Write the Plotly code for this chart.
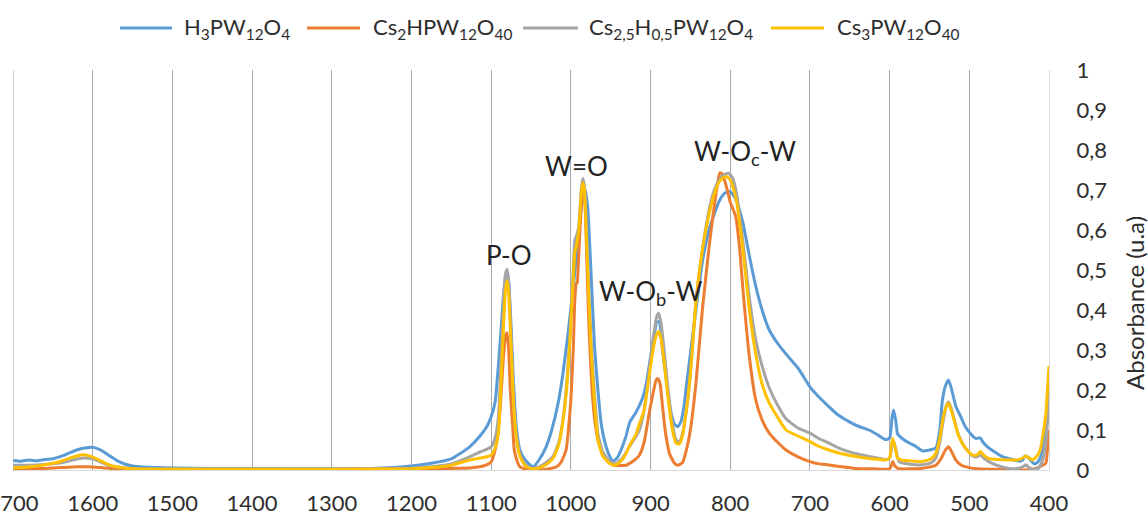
import plotly.graph_objects as go

# ---------------- data ----------------
h3_wn = [1700, 1690, 1680, 1670, 1660, 1650, 1640, 1630, 1620, 1610, 1600, 1590, 1580, 1570, 1560, 1550, 1540, 1520,
         1500, 1450, 1400, 1350, 1300, 1250, 1200, 1175, 1150, 1140, 1127, 1114, 1105, 1100, 1095, 1091, 1088, 1085,
         1082, 1080, 1078, 1075, 1072, 1068, 1064, 1060, 1054, 1047, 1040, 1031, 1024, 1016, 1010, 1004, 998, 993, 989,
         985, 982, 979, 976, 973, 970, 966, 962, 956, 951, 947, 942, 937, 931, 926, 918, 910, 905, 901, 896, 892, 889,
         885, 880, 875, 870, 866, 862, 858, 855, 850, 843, 835, 826, 820, 814, 808, 802, 797, 792, 784, 776, 768, 760,
         751, 740, 730, 715, 700, 690, 676, 665, 651, 640, 626, 615, 605, 600, 597, 595, 592, 590, 585, 576, 568, 559,
         550, 542, 537, 534, 530, 526, 522, 517, 510, 505, 498, 492, 488, 486, 483, 476, 468, 459, 450, 442, 436, 433,
         430, 426, 422, 419, 415, 411, 408, 405, 402, 400]
h3_abs = [0.024, 0.022, 0.025, 0.023, 0.026, 0.028, 0.034, 0.042, 0.050, 0.055, 0.057, 0.050, 0.037, 0.024, 0.015,
          0.010, 0.008, 0.006, 0.005, 0.004, 0.004, 0.003, 0.003, 0.004, 0.010, 0.017, 0.028, 0.040, 0.058, 0.085,
          0.110, 0.133, 0.17, 0.26, 0.34, 0.425, 0.485, 0.497, 0.47, 0.36, 0.22, 0.10, 0.05, 0.033, 0.018, 0.008,
          0.025, 0.058, 0.10, 0.167, 0.24, 0.333, 0.44, 0.533, 0.62, 0.68, 0.70, 0.66, 0.55, 0.42, 0.30, 0.20, 0.117,
          0.06, 0.033, 0.022, 0.03, 0.05, 0.083, 0.12, 0.145, 0.18, 0.22, 0.27, 0.33, 0.37, 0.37, 0.30, 0.22, 0.15,
          0.115, 0.108, 0.12, 0.16, 0.21, 0.29, 0.40, 0.52, 0.605, 0.64, 0.672, 0.69, 0.697, 0.69, 0.672, 0.617,
          0.535, 0.46, 0.40, 0.35, 0.315, 0.29, 0.255, 0.208, 0.185, 0.158, 0.138, 0.121, 0.11, 0.10, 0.088, 0.076,
          0.08, 0.13, 0.15, 0.12, 0.09, 0.08, 0.068, 0.06, 0.048, 0.05, 0.055, 0.10, 0.17, 0.21, 0.225, 0.20, 0.16,
          0.13, 0.108, 0.09, 0.079, 0.08, 0.08, 0.07, 0.056, 0.045, 0.034, 0.028, 0.024, 0.022, 0.025, 0.035, 0.032,
          0.022, 0.016, 0.018, 0.03, 0.05, 0.09, 0.15, 0.22]

cs2_wn = [1700, 1680, 1660, 1640, 1620, 1605, 1590, 1570, 1550, 1500, 1400, 1300, 1200, 1150, 1127, 1110, 1100, 1095,
          1091, 1088, 1085, 1082, 1080, 1078, 1076, 1073, 1071, 1067, 1064, 1055, 1040, 1030, 1018, 1012, 1006, 1003,
          1000, 997, 995, 993, 992, 991, 988, 985, 983, 980, 978, 976, 973, 970, 966, 962, 955, 947, 931, 920, 914,
          908, 901, 896, 893, 891, 888, 885, 881, 876, 870, 866, 860, 855, 850, 843, 835, 826, 820, 816, 813, 810,
          805, 800, 793, 788, 784, 776, 768, 760, 751, 740, 730, 715, 700, 690, 676, 660, 643, 620, 600, 597, 596,
          594, 590, 560, 542, 535, 530, 526, 522, 517, 510, 500, 490, 450, 430, 420, 410, 404, 402, 400]
cs2_abs = [0.002, 0.003, 0.004, 0.006, 0.008, 0.008, 0.006, 0.003, 0.002, 0.001, 0.001, 0.001, 0.002, 0.004, 0.005,
           0.01, 0.02, 0.05, 0.10, 0.175, 0.27, 0.335, 0.343, 0.30, 0.20, 0.11, 0.05, 0.02, 0.008, 0.001, 0.0, 0.002,
           0.008, 0.02, 0.05, 0.10, 0.175, 0.30, 0.425, 0.467, 0.467, 0.50, 0.62, 0.70, 0.69, 0.525, 0.40, 0.30, 0.19,
           0.125, 0.075, 0.05, 0.025, 0.012, 0.012, 0.025, 0.037, 0.07, 0.15, 0.20, 0.225, 0.229, 0.215, 0.16, 0.09,
           0.04, 0.017, 0.012, 0.018, 0.05, 0.10, 0.217, 0.40, 0.567, 0.66, 0.715, 0.743, 0.74, 0.71, 0.67, 0.633,
           0.55, 0.45, 0.283, 0.175, 0.125, 0.092, 0.068, 0.05, 0.033, 0.021, 0.016, 0.0125, 0.008, 0.004, 0.003,
           0.003, 0.015, 0.021, 0.012, 0.004, 0.004, 0.012, 0.03, 0.05, 0.058, 0.045, 0.025, 0.012, 0.006, 0.003,
           0.001, 0.0, 0.002, 0.01, 0.017, 0.05, 0.10]

cs25_wn = [1700, 1680, 1660, 1640, 1625, 1612, 1600, 1590, 1580, 1565, 1550, 1500, 1400, 1300, 1200, 1175, 1150, 1127,
           1114, 1105, 1100, 1095, 1091, 1088, 1085, 1082, 1080, 1078, 1075, 1072, 1068, 1064, 1058, 1049, 1040, 1030,
           1022, 1015, 1010, 1005, 1001, 997, 995, 993, 990, 987, 985, 983, 980, 977, 974, 970, 966, 960, 951, 943,
           935, 926, 918, 914, 908, 901, 896, 892, 890, 887, 883, 878, 873, 868, 864, 860, 855, 850, 843, 835, 826,
           820, 814, 808, 802, 797, 792, 784, 776, 768, 760, 751, 740, 730, 715, 700, 690, 676, 665, 651, 640, 626,
           615, 605, 600, 597, 595, 592, 588, 576, 559, 548, 542, 537, 533, 529, 526, 522, 517, 513, 505, 496, 490,
           486, 482, 472, 460, 450, 440, 433, 429, 425, 419, 413, 408, 404, 402, 400]
cs25_abs = [0.012, 0.012, 0.014, 0.018, 0.025, 0.030, 0.028, 0.02, 0.012, 0.006, 0.004, 0.003, 0.003, 0.003, 0.005,
            0.008, 0.015, 0.033, 0.045, 0.052, 0.058, 0.08, 0.13, 0.25, 0.40, 0.49, 0.502, 0.47, 0.33, 0.18, 0.08,
            0.04, 0.015, 0.004, 0.008, 0.02, 0.035, 0.07, 0.125, 0.22, 0.34, 0.50, 0.575, 0.585, 0.61, 0.70, 0.729,
            0.71, 0.58, 0.42, 0.30, 0.18, 0.09, 0.045, 0.021, 0.017, 0.03, 0.06, 0.085, 0.10, 0.15, 0.26, 0.34, 0.385,
            0.392, 0.37, 0.30, 0.20, 0.12, 0.075, 0.07, 0.09, 0.15, 0.24, 0.42, 0.55, 0.655, 0.70, 0.725, 0.738,
            0.742, 0.73, 0.69, 0.57, 0.43, 0.325, 0.26, 0.205, 0.16, 0.128, 0.105, 0.092, 0.08, 0.067, 0.056, 0.046,
            0.04, 0.034, 0.03, 0.026, 0.03, 0.06, 0.073, 0.05, 0.02, 0.015, 0.013, 0.018, 0.03, 0.07, 0.12, 0.16,
            0.17, 0.15, 0.11, 0.085, 0.055, 0.035, 0.033, 0.038, 0.03, 0.017, 0.008, 0.004, 0.004, 0.008, 0.013,
            0.006, 0.001, 0.005, 0.025, 0.07, 0.12, 0.20]

cs3_wn = [1700, 1690, 1680, 1670, 1660, 1650, 1640, 1630, 1620, 1613, 1605, 1595, 1585, 1575, 1565, 1550, 1500, 1400,
          1300, 1200, 1175, 1150, 1127, 1114, 1105, 1100, 1095, 1091, 1088, 1085, 1082, 1080, 1078, 1075, 1072, 1068,
          1064, 1058, 1050, 1040, 1030, 1022, 1015, 1010, 1005, 1001, 997, 995, 993, 990, 987, 985, 983, 980, 977,
          974, 970, 966, 960, 951, 945, 938, 931, 926, 918, 914, 908, 901, 896, 892, 890, 887, 883, 878, 873, 868,
          864, 860, 855, 850, 843, 835, 826, 820, 814, 808, 804, 800, 797, 792, 784, 776, 768, 760, 751, 740, 730,
          715, 700, 690, 676, 665, 651, 640, 626, 615, 605, 600, 598, 596, 593, 590, 585, 576, 559, 548, 542, 537,
          533, 529, 526, 522, 517, 513, 505, 496, 490, 486, 482, 476, 465, 450, 440, 433, 429, 425, 421, 415, 411,
          408, 404, 402, 400]
cs3_abs = [0.006, 0.006, 0.008, 0.01, 0.013, 0.017, 0.022, 0.029, 0.035, 0.038, 0.036, 0.028, 0.018, 0.01, 0.006,
           0.003, 0.002, 0.002, 0.002, 0.003, 0.006, 0.012, 0.025, 0.03, 0.033, 0.037, 0.055, 0.092, 0.20, 0.34,
           0.45, 0.474, 0.44, 0.31, 0.17, 0.075, 0.035, 0.012, 0.003, 0.005, 0.015, 0.03, 0.065, 0.12, 0.21, 0.33,
           0.48, 0.545, 0.56, 0.60, 0.69, 0.718, 0.70, 0.56, 0.41, 0.28, 0.16, 0.075, 0.035, 0.016, 0.012, 0.02,
           0.04, 0.062, 0.09, 0.115, 0.15, 0.245, 0.31, 0.34, 0.346, 0.33, 0.27, 0.18, 0.105, 0.067, 0.065, 0.085,
           0.15, 0.24, 0.42, 0.55, 0.645, 0.69, 0.72, 0.732, 0.733, 0.725, 0.71, 0.67, 0.55, 0.40, 0.29, 0.215,
           0.167, 0.13, 0.10, 0.085, 0.071, 0.06, 0.05, 0.043, 0.037, 0.033, 0.029, 0.027, 0.025, 0.03, 0.06, 0.079,
           0.055, 0.03, 0.025, 0.023, 0.021, 0.028, 0.042, 0.08, 0.13, 0.158, 0.167, 0.145, 0.11, 0.083, 0.055,
           0.037, 0.038, 0.046, 0.037, 0.029, 0.026, 0.025, 0.025, 0.03, 0.035, 0.03, 0.025, 0.035, 0.05, 0.083,
           0.14, 0.20, 0.26]

series_names = ["H<sub>3</sub>PW<sub>12</sub>O<sub>4</sub>",
                "Cs<sub>2</sub>HPW<sub>12</sub>O<sub>40</sub>",
                "Cs<sub>2,5</sub>H<sub>0,5</sub>PW<sub>12</sub>O<sub>4</sub>",
                "Cs<sub>3</sub>PW<sub>12</sub>O<sub>40</sub>"]
series_colors = ["#5B9BD5", "#ED7D31", "#A5A5A5", "#FFC000"]

x_ticks = list(range(1700, 399, -100))
y_ticks = [i / 10 for i in range(11)]

band_labels = ["P-O", "W=O", "W-O<sub>b</sub>-W", "W-O<sub>c</sub>-W"]
band_x = [1078, 993, 900, 782]
band_y = [0.537, 0.761, 0.445, 0.795]

# ---------------- figure ----------------
FONT = "Lato, 'Open Sans', sans-serif"
TXT = "#2E2E2E"
W, H = 1148, 516
ML, MR, MT, MB = 13, 99, 70, 46
PW, PH = W - ML - MR, H - MT - MB


def px_to_paper_x(px):
    return (px - ML) / PW


def px_to_paper_y(py):
    return (H - MB - py) / PH


fig = go.Figure()
for wn, ab, name, col in zip([h3_wn, cs2_wn, cs25_wn, cs3_wn],
                             [h3_abs, cs2_abs, cs25_abs, cs3_abs],
                             series_names, series_colors):
    fig.add_trace(go.Scatter(x=wn, y=ab, mode="lines", name=name, showlegend=False,
                             line=dict(color=col, width=3, shape="spline", smoothing=0.5)))

# legend drawn as line samples + text (layout positions)
leg_line_px = [(120, 172), (307, 360), (523, 578), (771, 824)]
leg_text_px = [182, 371, 587, 835]
leg_y = px_to_paper_y(28)
for (a, b), tx, name, col in zip(leg_line_px, leg_text_px, series_names, series_colors):
    fig.add_shape(type="line", xref="paper", yref="paper", x0=px_to_paper_x(a), x1=px_to_paper_x(b),
                  y0=leg_y, y1=leg_y, line=dict(color=col, width=3))
    fig.add_annotation(x=px_to_paper_x(tx), y=leg_y, xref="paper", yref="paper", xanchor="left",
                       yanchor="middle", text=name, showarrow=False,
                       font=dict(family=FONT, size=22, color=TXT))

# left boundary gridline
fig.add_shape(type="line", xref="x", yref="paper", x0=1700, x1=1700, y0=0, y1=1,
              line=dict(color="#ABABAB", width=1))

for t, xv, yv in zip(band_labels, band_x, band_y):
    fig.add_annotation(x=xv, y=yv, xref="x", yref="y", text=t, showarrow=False,
                       font=dict(family=FONT, size=26, color="#222222"))

fig.add_annotation(x=px_to_paper_x(1134), y=px_to_paper_y(303), xref="paper", yref="paper",
                   xanchor="center", yanchor="middle",
                   text="Absorbance (u.a)", textangle=-90, showarrow=False,
                   font=dict(family=FONT, size=24, color=TXT))

fig.update_layout(
    width=W, height=H,
    margin=dict(l=ML, r=MR, t=MT, b=MB),
    paper_bgcolor="white", plot_bgcolor="white",
    separators=", ",
    font=dict(family=FONT, size=22, color=TXT),
    showlegend=False,
)
fig.update_xaxes(range=[1700, 400], tickvals=x_ticks, ticktext=[str(v) for v in x_ticks],
                 showgrid=True, gridcolor="#ABABAB", gridwidth=1,
                 showline=True, linecolor="#D9D9D9", linewidth=1, zeroline=False,
                 ticks="outside", ticklen=14, tickcolor="rgba(0,0,0,0)",
                 ticklabeloverflow="allow",
                 tickfont=dict(family=FONT, size=22, color=TXT), automargin=False)
fig.update_yaxes(range=[0, 1], tickvals=y_ticks, side="right", showgrid=False,
                 showline=True, linecolor="#D9D9D9", linewidth=1, zeroline=False,
                 ticks="outside", ticklen=22, tickcolor="rgba(0,0,0,0)",
                 ticklabeloverflow="allow",
                 tickfont=dict(family=FONT, size=22, color=TXT), automargin=False)

fig.write_html("out.html", config={"displayModeBar": False},
               post_script="document.body.style.margin='0px';")
